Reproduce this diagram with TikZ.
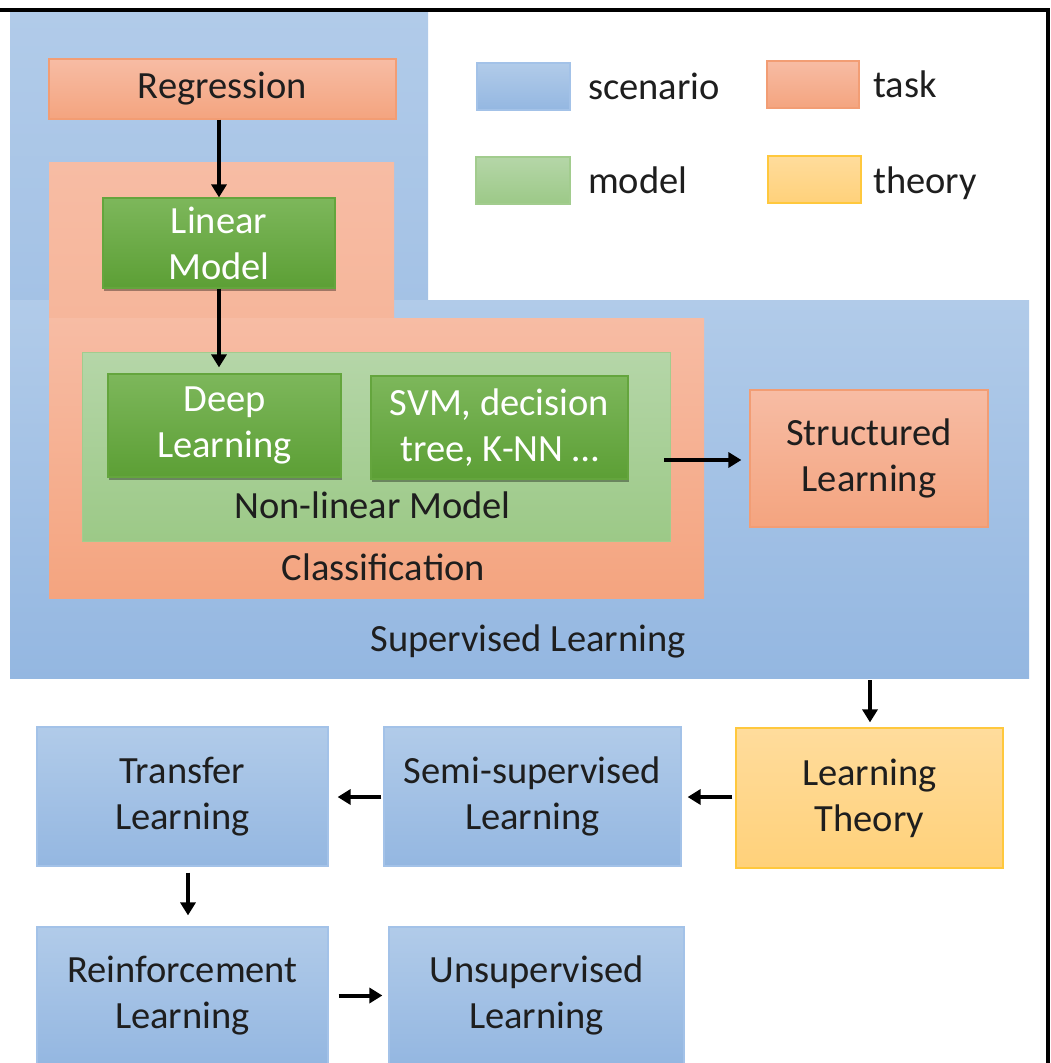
\documentclass[tikz,border=0pt]{standalone}
\usepackage{fontspec}
\setmainfont{Carlito}
\usetikzlibrary{arrows.meta,shadows}
\definecolor{txt}{HTML}{1E1E1E}
\definecolor{scenT}{HTML}{B1CBE9}
\definecolor{scenB}{HTML}{94B7E1}
\definecolor{scenD}{HTML}{A3C2E8}
\definecolor{taskT}{HTML}{F7BCA4}
\definecolor{taskB}{HTML}{F4A47F}
\definecolor{taskD}{HTML}{F29D74}
\definecolor{modT}{HTML}{7DB75B}
\definecolor{modB}{HTML}{5C9F35}
\definecolor{modD}{HTML}{64A53D}
\definecolor{nlT}{HTML}{B5D6A8}
\definecolor{nlB}{HTML}{9CC987}
\definecolor{nlD}{HTML}{A2CC8E}
\definecolor{theoT}{HTML}{FFDC9C}
\definecolor{theoB}{HTML}{FFD17A}
\definecolor{theoD}{HTML}{FFC83D}
\begin{document}
\begin{tikzpicture}[x=1pt,y=-1pt,
  font=\fontsize{38.5}{46}\selectfont,
  box/.style={rectangle, inner sep=0pt, align=center, text=txt, line width=1.2pt},
  scen/.style={box, top color=scenT, bottom color=scenB, draw=scenD},
  tsk/.style={box, top color=taskT, bottom color=taskB, draw=taskD},
  modl/.style={box, top color=modT, bottom color=modB, draw=modD, text=white,
    drop shadow={shadow xshift=1pt, shadow yshift=-2.5pt, opacity=0.35, fill=black}},
  theo/.style={box, top color=theoT, bottom color=theoB, draw=theoD},
  lbl/.style={inner sep=0pt, text=txt, anchor=base},
  arr/.style={line width=4pt, -{Triangle[width=15pt,length=13pt]}}]
\useasboundingbox (0,0) rectangle (1051,1063);
\fill[white] (0,0) rectangle (1051,1063);
% Supervised learning region (L-shape)
\shade[top color=scenT, bottom color=scenT!55!scenB] (10,12) rectangle (428,300);
\shade[top color=scenT, bottom color=scenB] (10,300) rectangle (1029,678);
% Classification region (L-shape)
\shade[top color=taskT, bottom color=taskT!75!taskB] (49,162) rectangle (394,319);
\shade[top color=taskT, bottom color=taskB] (49,318) rectangle (704,598);
% Non-linear model region
\shade[top color=nlT, bottom color=nlB, draw=nlD, line width=1pt] (82,352) rectangle (670,541);
% region labels
\node[lbl] (nllbl) at (372.5,518) {Non-linear Model};
\node[lbl] (clslbl) at (383.5,580) {Classification};
\node[lbl] (suplbl) at (528,651) {Supervised Learning};
% boxes
\node[tsk, minimum width=347, minimum height=60] (reg) at (222.5,89) {Regression};
\node[modl, minimum width=232, minimum height=90] (lin) at (219,243) {Linear\\Model};
\node[modl, minimum width=233, minimum height=103] (deep) at (224.5,425.5) {Deep\\Learning};
\node[modl, minimum width=257, minimum height=103] (svm) at (499.5,427.5) {SVM, decision\\tree, K-NN \ldots};
\node[tsk, minimum width=238, minimum height=137] (struct) at (869,458.5) {Structured\\Learning};
\node[theo, minimum width=267, minimum height=140] (lt) at (869.5,798) {Learning\\Theory};
\node[scen, minimum width=297, minimum height=139] (semi) at (532.5,796.5) {Semi-supervised\\Learning};
\node[scen, minimum width=291, minimum height=139] (trans) at (182.5,796.5) {Transfer\\Learning};
\node[scen, minimum width=291, minimum height=137] (reinf) at (182.5,995.5) {Reinforcement\\Learning};
\node[scen, minimum width=295, minimum height=137] (unsup) at (536.5,995.5) {Unsupervised\\Learning};
% legend
\node[scen, minimum width=93, minimum height=47] (lscen) at (523.5,86.5) {};
\node[tsk, minimum width=92, minimum height=47] (ltask) at (813,84.5) {};
\node[box, minimum width=94, minimum height=47, top color=nlT, bottom color=nlB, draw=nlD] (lmod) at (523,180.5) {};
\node[theo, minimum width=93, minimum height=47] (ltheo) at (814.5,179.5) {};
\node[lbl, anchor=base west] (tscen) at (588,99) {scenario};
\node[lbl, anchor=base west] (ttask) at (873,97) {task};
\node[lbl, anchor=base west] (tmod) at (588,193) {model};
\node[lbl, anchor=base west] (ttheo) at (873,193) {theory};
% connectors
\coordinate (svmout) at (664,460);
\coordinate (supout) at (870,680);
\draw[arr] (reg.south -| lin.north) -- (lin.north);
\draw[arr, shorten >=6pt] (lin.south) -- (lin.south |- deep.north);
\draw[arr, shorten >=8pt] (svmout) -- (struct.west |- svmout);
\draw[arr, shorten >=5pt] (supout) -- (supout |- lt.north);
\draw[arr, shorten <=3pt, shorten >=6pt] (lt.west |- 0,797) -- (semi.east |- 0,797);
\draw[arr, shorten <=2pt, shorten >=9pt] (semi.west |- 0,797) -- (trans.east |- 0,797);
\draw[arr, shorten <=6pt, shorten >=11pt] (trans.south -| 188,0) -- (reinf.north -| 188,0);
\draw[arr, shorten <=10pt, shorten >=6pt] (reinf.east) -- (unsup.west);
% frame lines
\draw[line width=4pt] (0,10.3) -- (1047.5,10.3) -- (1047.5,1063);
\end{tikzpicture}
\end{document}
